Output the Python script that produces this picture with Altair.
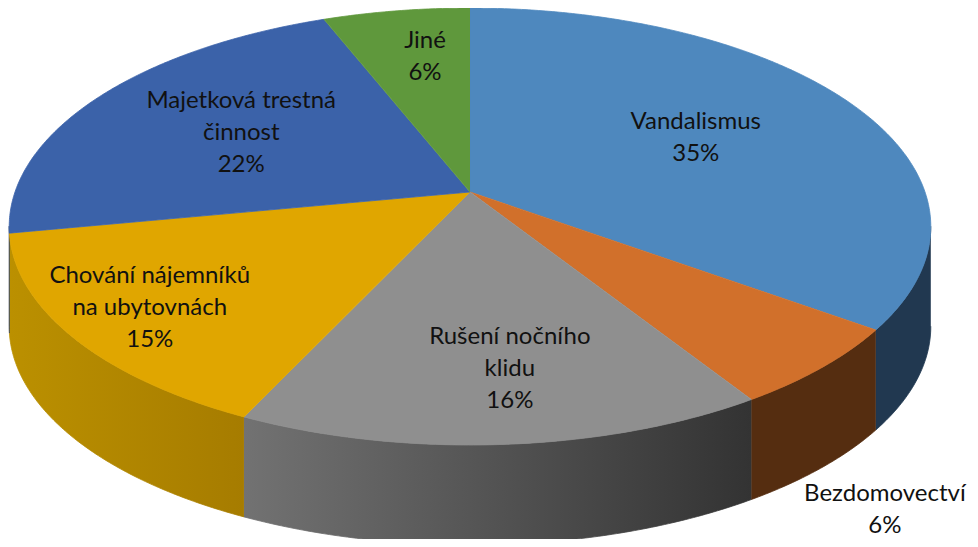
import textwrap
import numpy as np
import pandas as pd
import altair as alt

# ---- data ----
categories = ["Vandalismus", "Bezdomovectví", "Rušení nočního klidu",
              "Chování nájemníků na ubytovnách", "Majetková trestná činnost", "Jiné"]
values = [35, 6, 16, 15, 22, 6]

# ---- styling / layout ----
top_colors = ["#4e88be", "#d1702b", "#8f8f8f", "#e0a600", "#3b62a9", "#5f983c"]
side_fills = [
    "#213850",
    "#552d10",
    {"gradient": "linear", "x1": 0, "x2": 1, "y1": 0, "y2": 0,
     "stops": [{"offset": 0, "color": "#727272"}, {"offset": 1, "color": "#333333"}]},
    {"gradient": "linear", "x1": 0, "x2": 1, "y1": 0, "y2": 0,
     "stops": [{"offset": 0, "color": "#bb9000"}, {"offset": 1, "color": "#a67c00"}]},
    "#233a66",
    "#3a5c24",
]
label_r = [0.58, 1.18, 0.74, 0.82, 0.60, 0.71]
label_shift = [0, 1.5, -2.4, 0, 0, 1.9]
label_lvl = [0, 1, 0, 0, 0, 0]
LINE_H = 32

CX, CY, RX, RY, K, DEPTH = 470, 192, 455, 213, 0.158, 100
SIDE_LO, SIDE_HI = 99, 261

total = float(sum(values))
cum = np.cumsum([0] + values) / total * 360.0

rows = []
for i, cat in enumerate(categories):
    a0, a1 = cum[i], cum[i + 1]
    n = max(4, int((a1 - a0) * 2))
    rows.append(dict(key=cat, part="top", seq=0, angle=a0, r=0, lvl=0))
    for s, a in enumerate(np.linspace(a0, a1, n + 1)):
        rows.append(dict(key=cat, part="top", seq=s + 1, angle=a, r=1, lvl=0))
    lo, hi = max(a0, SIDE_LO), min(a1, SIDE_HI)
    if hi > lo:
        m = max(4, int((hi - lo) * 2))
        angs = np.linspace(lo, hi, m + 1)
        seq = 0
        for a in angs:
            rows.append(dict(key=cat, part="side", seq=seq, angle=a, r=1, lvl=0)); seq += 1
        for a in angs[::-1]:
            rows.append(dict(key=cat, part="side", seq=seq, angle=a, r=1, lvl=1)); seq += 1
geo = pd.DataFrame(rows)

labels = []
for i, cat in enumerate(categories):
    mid = (cum[i] + cum[i + 1]) / 2 + label_shift[i]
    pct = round(values[i] / total * 100)
    lines = textwrap.wrap(cat, 17) + [f"{pct}%"]
    labels.append(dict(key=cat, text="\n".join(lines), nl=len(lines),
                       angle=mid, r=label_r[i], lvl=label_lvl[i]))
lab = pd.DataFrame(labels)


def project(ch):
    return ch.transform_calculate(
        u="datum.r*sin(datum.angle*PI/180)",
        v="datum.r*cos(datum.angle*PI/180)",
    ).transform_calculate(
        w=f"1 + {K}*datum.v"
    ).transform_calculate(
        px=f"{CX} + {RX}*datum.u/datum.w",
        py=f"{CY} - {RY}*datum.v/datum.w + {DEPTH}*datum.lvl",
    )


xscale = alt.Scale(domain=[8, 970], nice=False, zero=False)
yscale = alt.Scale(domain=[8, 539], nice=False, zero=False, reverse=True)
xs = alt.X("px:Q", scale=xscale, axis=None)
ys = alt.Y("py:Q", scale=yscale, axis=None)

layers = []
for i, cat in enumerate(categories):
    if not ((geo.key == cat) & (geo.part == "side")).any():
        continue
    layers.append(
        project(alt.Chart(geo)).transform_filter(
            (alt.datum.key == cat) & (alt.datum.part == "side")
        ).mark_line(filled=True, color=side_fills[i], stroke=side_fills[i], strokeWidth=0.8)
        .encode(x=xs, y=ys, order=alt.Order("seq:Q"))
    )

cscale = alt.Scale(domain=categories, range=top_colors)
layers.append(
    project(alt.Chart(geo)).transform_filter(alt.datum.part == "top")
    .mark_line(filled=True, strokeWidth=0.8)
    .encode(x=xs, y=ys, order=alt.Order("seq:Q"),
            color=alt.Color("key:N", scale=cscale, legend=None),
            stroke=alt.Stroke("key:N", scale=cscale, legend=None))
)

layers.append(
    project(alt.Chart(lab)).transform_calculate(
        ty=f"datum.py - (datum.nl - 1) * {LINE_H / 2}"
    ).mark_text(
        font="Lato", fontSize=24, lineHeight=LINE_H, lineBreak="\n",
        align="center", baseline="middle", color="#111111"
    ).encode(x=xs, y=alt.Y("ty:Q", scale=yscale, axis=None), text="text:N")
)

chart = alt.layer(*layers).properties(
    width=962, height=531, padding=0,
    autosize=alt.AutoSizeParams(type="none"),
).configure_view(stroke=None)

chart.save("out.html", embed_options={"renderer": "svg", "actions": False})
